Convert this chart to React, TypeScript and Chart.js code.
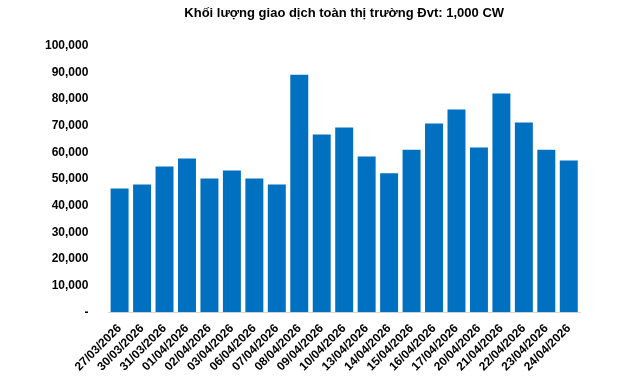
import React, { useEffect, useRef } from "react";
import { Chart, registerables } from "chart.js";

Chart.register(...registerables);

const TITLE = "Khối lượng giao dịch toàn thị trường Đvt: 1,000 CW";

const dates = [
  "27/03/2026", "30/03/2026", "31/03/2026", "01/04/2026", "02/04/2026",
  "03/04/2026", "06/04/2026", "07/04/2026", "08/04/2026", "09/04/2026",
  "10/04/2026", "13/04/2026", "14/04/2026", "15/04/2026", "16/04/2026",
  "17/04/2026", "20/04/2026", "21/04/2026", "22/04/2026", "23/04/2026",
  "24/04/2026",
];

const volumes = [
  46400, 47900, 54700, 57700, 50200, 53200, 50200, 47900, 89100, 66700,
  69300, 58400, 52100, 61000, 70800, 76000, 61800, 82000, 71200, 61000,
  56900,
];

const BAR_COLOR = "#0070C0";
const FONT = "'Liberation Sans', Arial, sans-serif";

export default function App() {
  const ref = useRef<HTMLCanvasElement | null>(null);

  useEffect(() => {
    document.body.style.margin = "0";
    if (!ref.current) return;
    const chart = new Chart(ref.current, {
      type: "bar",
      data: {
        labels: dates,
        datasets: [
          {
            data: volumes,
            backgroundColor: BAR_COLOR,
            categoryPercentage: 1,
            barPercentage: 0.8,
          },
        ],
      },
      options: {
        animation: false,
        responsive: false,
        maintainAspectRatio: false,
        layout: { padding: { left: 33, right: 61, top: 4, bottom: 3 } },
        plugins: {
          legend: { display: false },
          tooltip: { enabled: false },
          title: {
            display: true,
            text: TITLE,
            fullSize: false,
            color: "#000",
            font: { family: FONT, size: 13, weight: "bold" },
            padding: { top: 2, bottom: 24 },
          },
        },
        scales: {
          x: {
            grid: { display: false },
            border: { display: true, color: "#d9d9d9", width: 1 },
            ticks: {
              autoSkip: false,
              maxRotation: 45,
              minRotation: 45,
              color: "#000",
              font: { family: FONT, size: 12, weight: "bold" },
              padding: 1,
            },
          },
          y: {
            min: 0,
            max: 100000,
            grid: { display: false },
            border: { display: false },
            ticks: {
              stepSize: 10000,
              color: "#000",
              padding: 12,
              font: { family: FONT, size: 12, weight: "bold" },
              callback: (v: any) => (Number(v) === 0 ? "-" : Number(v).toLocaleString("en-US")),
            },
          },
        },
      },
    });
    return () => chart.destroy();
  }, []);

  return (
    <div style={{ width: 641, height: 378, background: "#fff" }}>
      <canvas ref={ref} width={641} height={378} style={{ display: "block" }} />
    </div>
  );
}
